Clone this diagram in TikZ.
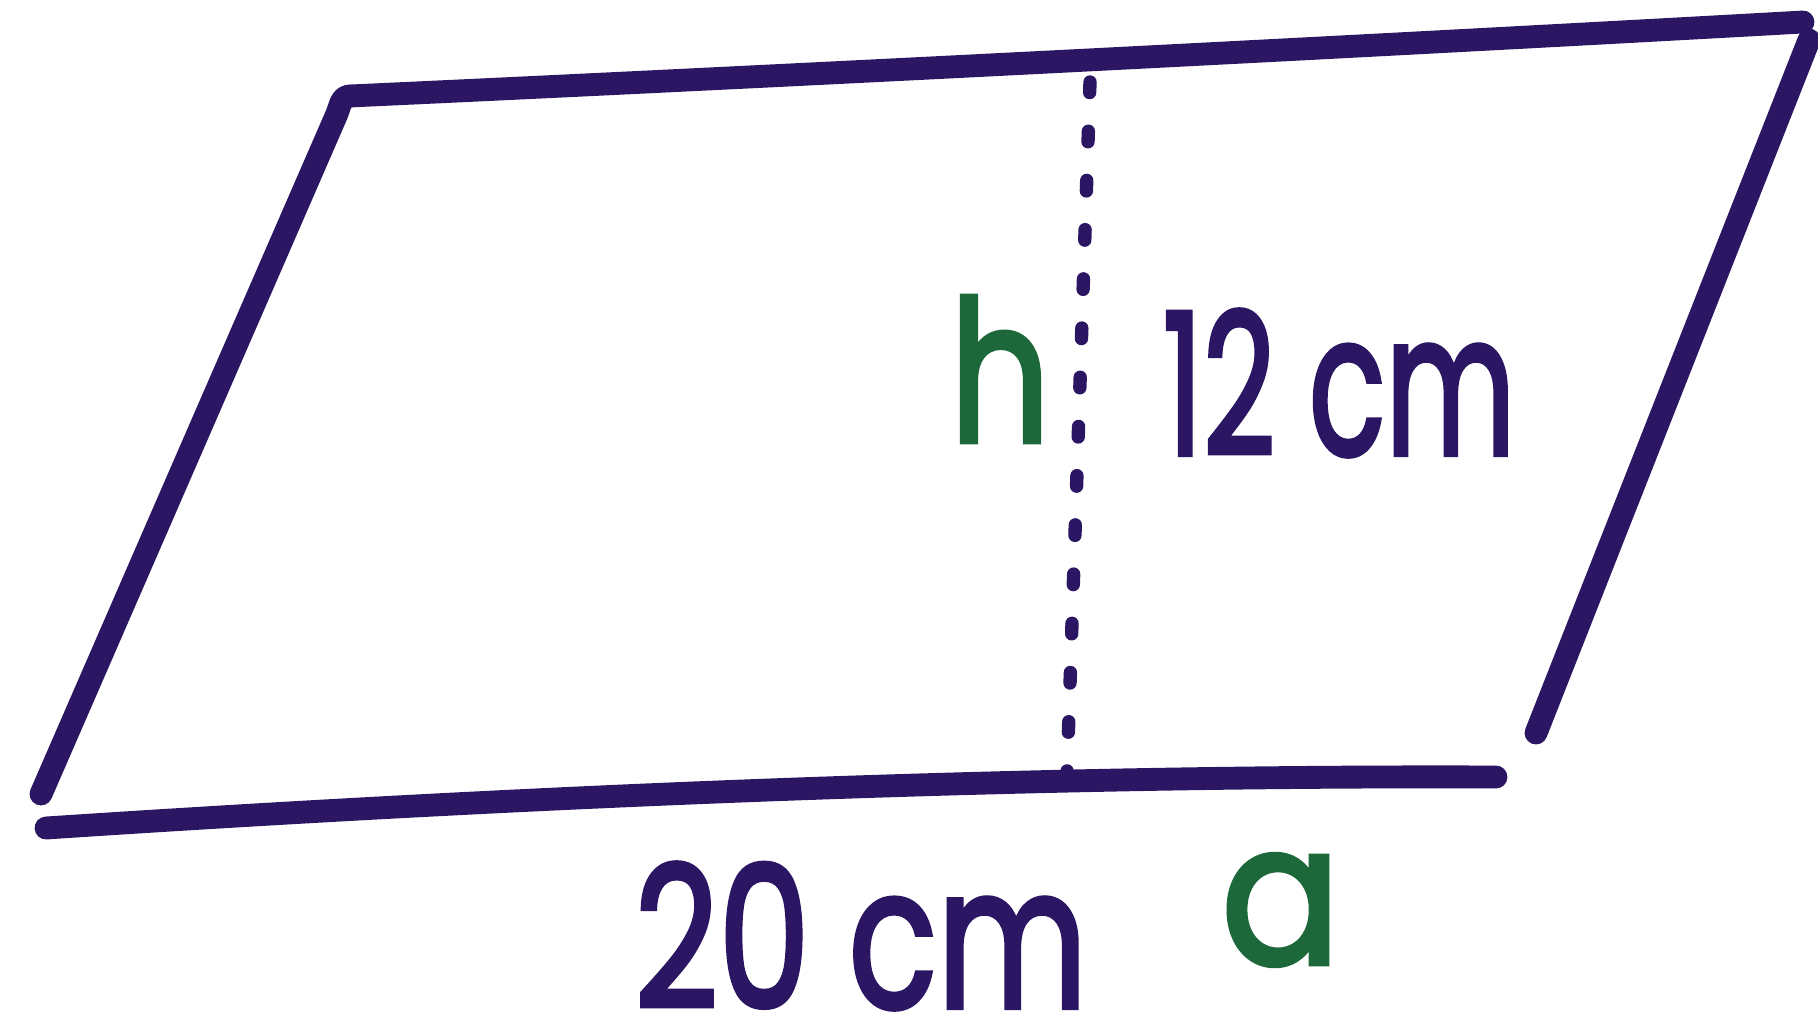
\documentclass[tikz,border=0pt]{standalone}
\usepackage{fontspec}
\newfontfamily\hand{Poppins}[FakeBold=2.5]
\usetikzlibrary{calc}
\definecolor{ink}{RGB}{42,22,98}
\definecolor{penGreen}{RGB}{28,104,58}

\begin{document}
\begin{tikzpicture}[
  x=0.01cm, y=-0.01cm,
  pen/.style={draw=ink, line width=6.5pt, line cap=round, line join=round},
  dotline/.style={draw=ink, line width=3.8pt, line cap=round, dash pattern=on 3pt off 11pt},
  lbl/.style={inner sep=0pt, text=ink, font=\fontsize{56}{60}\hand},
  var/.style={lbl, text=penGreen},
]
\useasboundingbox (0,0) rectangle (1818,1033);

% ============ CORNERS ============
\coordinate (bl)  at (41,794);
\coordinate (tl)  at (336,116);
\coordinate (tlh) at (350,96);
\coordinate (tr)  at (1803,22);
\coordinate (trs) at (1809,40);
\coordinate (br)  at (1536,733);
\coordinate (bs)  at (46,828);
\coordinate (be)  at (1496,777);
\coordinate (htop) at (1090,82);
\coordinate (hbot) at (1067,774);

% ============ OUTLINE ============
% left side, bending into the top side
\draw[pen] (bl) -- (tl) to[out=65,in=180] (tlh);
% top side
\draw[pen] (tlh) .. controls (700,80) and (1300,50) .. (tr);
% right side
\draw[pen] (trs) -- (br);
% base
\draw[pen] (bs) .. controls (500,798) and (1000,775) .. (be);

% ============ HEIGHT ============
\draw[dotline] (htop) -- (hbot);

% ============ LABELS ============
\node[var] (h)   at (1000,369) {\scalebox{0.8}[1]{h}};
\node[lbl] (len) at (1339,383) {\scalebox{0.64}[1]{12 cm}};
\node[lbl] (bas) at (861,936)  {\scalebox{0.74}[1]{20 cm}};
\node[var] (a)   at (1281,910) {\scalebox{0.9}[1]{a}};

\end{tikzpicture}
\end{document}
